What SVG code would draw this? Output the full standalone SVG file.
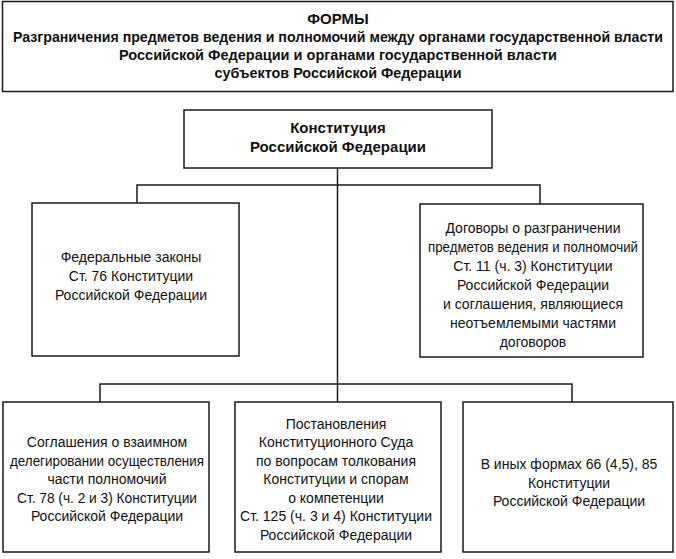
<svg xmlns="http://www.w3.org/2000/svg" width="676" height="559" viewBox="0 0 676 559">
<style>
.box{fill:#fff;stroke:#1a1a1a;stroke-width:1.5}
.ln{fill:none;stroke:#1a1a1a;stroke-width:1.5}
.b{font-family:"Liberation Sans",Arial,sans-serif;font-weight:bold;font-size:15px;fill:#111;text-anchor:middle}
.t{font-family:"Liberation Sans",Arial,sans-serif;font-size:14px;fill:#111;text-anchor:middle}
</style>
<rect width="676" height="559" fill="#fff"/>
<g id="connectors">
<path class="ln" d="M337.5 168 V384"/>
<path class="ln" d="M137 203 V185 H540 V204"/>
<path class="ln" d="M100 402 V384 H572 V402"/>
<path class="ln" d="M337.5 384 V402"/>
</g>
<g id="title">
<rect class="box" x="2.5" y="1.5" width="670.5" height="90"/>
<text class="b" x="338" y="24">ФОРМЫ</text>
<text class="b" x="338" y="42" style="font-size:14px" textLength="650" lengthAdjust="spacingAndGlyphs">Разграничения предметов ведения и полномочий между органами государственной власти</text>
<text class="b" x="338" y="60" textLength="438" lengthAdjust="spacingAndGlyphs">Российской Федерации и органами государственной власти</text>
<text class="b" x="338" y="78" textLength="247" lengthAdjust="spacingAndGlyphs">субъектов Российской Федерации</text>
</g>
<g id="constitution">
<rect class="box" x="184" y="110" width="308" height="58"/>
<text class="b" x="338" y="133">Конституция</text>
<text class="b" x="338" y="152">Российской Федерации</text>
</g>
<g id="federal-laws">
<rect class="box" x="32" y="203" width="207" height="153"/>
<text class="t" x="131" y="262">Федеральные законы</text>
<text class="t" x="131" y="281">Ст. 76 Конституции</text>
<text class="t" x="131" y="300">Российской Федерации</text>
</g>
<g id="treaties">
<rect class="box" x="420" y="204" width="223" height="153"/>
<text class="t" x="533" y="233">Договоры о разграничении</text>
<text class="t" x="533" y="252" textLength="210" lengthAdjust="spacingAndGlyphs">предметов ведения и полномочий</text>
<text class="t" x="533" y="271">Ст. 11 (ч. 3) Конституции</text>
<text class="t" x="533" y="290">Российской Федерации</text>
<text class="t" x="533" y="309">и соглашения, являющиеся</text>
<text class="t" x="533" y="328">неотъемлемыми частями</text>
<text class="t" x="533" y="347">договоров</text>
</g>
<g id="agreements">
<rect class="box" x="3" y="402" width="206" height="150"/>
<text class="t" x="107" y="447">Соглашения о взаимном</text>
<text class="t" x="107" y="465.5" textLength="194" lengthAdjust="spacingAndGlyphs">делегировании осуществления</text>
<text class="t" x="107" y="484">части полномочий</text>
<text class="t" x="107" y="502.5" textLength="180" lengthAdjust="spacingAndGlyphs">Ст. 78 (ч. 2 и 3) Конституции</text>
<text class="t" x="107" y="521">Российской Федерации</text>
</g>
<g id="court-rulings">
<rect class="box" x="235" y="402" width="206" height="150"/>
<text class="t" x="336" y="428.5">Постановления</text>
<text class="t" x="336" y="447">Конституционного Суда</text>
<text class="t" x="336" y="465.5">по вопросам толкования</text>
<text class="t" x="336" y="484">Конституции и спорам</text>
<text class="t" x="336" y="502.5">о компетенции</text>
<text class="t" x="336" y="521" textLength="192" lengthAdjust="spacingAndGlyphs">Ст. 125 (ч. 3 и 4) Конституции</text>
<text class="t" x="336" y="539.5">Российской Федерации</text>
</g>
<g id="other-forms">
<rect class="box" x="463" y="402" width="210" height="150"/>
<text class="t" x="569" y="469">В иных формах 66 (4,5), 85</text>
<text class="t" x="569" y="487.5">Конституции</text>
<text class="t" x="569" y="506">Российской Федерации</text>
</g>
</svg>
